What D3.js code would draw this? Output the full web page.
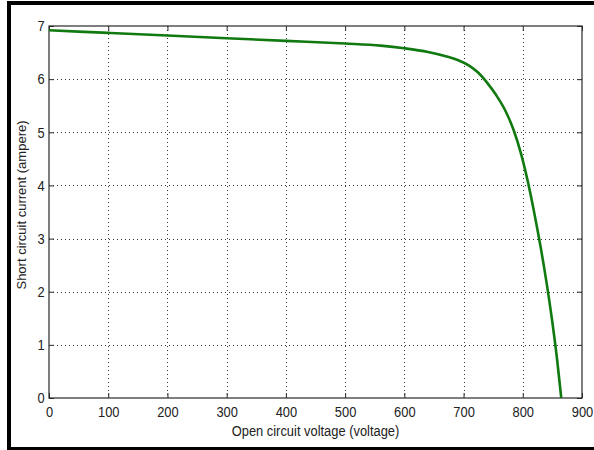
<!DOCTYPE html>
<html lang="en">
	<head>
		<meta charset="utf-8">
		<title>I-V curve</title>
		<script type="text/javascript" src="https://cdn.jsdelivr.net/npm/d3@7"></script>
		<style>
			body { margin: 0; background: #fff; }
			svg { display: block; }
			.axis text {
				font-family: "Liberation Sans", Arial, sans-serif;
				font-size: 15px;
				fill: #222;
			}
			.axis line { stroke: #2a2a2a; }
			.grid line {
				stroke: #333;
				stroke-width: 1px;
				stroke-dasharray: 1,3;
				shape-rendering: crispEdges;
			}
		</style>
	</head>
	<body>
		<script type="text/javascript">

			var w = 594;
			var h = 450;

			// x ticks (voltage) and y ticks (current)
			var xTicks = [0, 100, 200, 300, 400, 500, 600, 700, 800, 900];
			var yTicks = [0, 1, 2, 3, 4, 5, 6, 7];

			// curve
			var voltage = [0, 100, 200, 300, 400, 500, 560, 600, 640, 670, 690, 710, 725, 740, 755, 770, 785, 797, 808, 820, 830, 840, 850, 858, 865];
			var current = [6.92, 6.87, 6.82, 6.77, 6.72, 6.67, 6.63, 6.58, 6.51, 6.43, 6.36, 6.25, 6.12, 5.93, 5.70, 5.42, 5.03, 4.60, 4.10, 3.45, 2.85, 2.18, 1.42, 0.72, 0.00];

			var xLabel = "Open circuit voltage (voltage)";
			var yLabel = "Short circuit current (ampere)";

			// plot box (window.top is read-only, so use p* names)
			var pLeft = 49, pRight = 582, pTop = 26, pBottom = 398;

			var xScale = d3.scaleLinear().domain([0, 900]).range([pLeft, pRight]);
			var yScale = d3.scaleLinear().domain([0, 7]).range([pBottom, pTop]);

			var svg = d3.select("body")
				.append("svg")
				.attr("width", w)
				.attr("height", h);

			// outer black frame
			svg.append("line").attr("x1", 7).attr("x2", w).attr("y1", 3).attr("y2", 3)
				.attr("stroke", "#000").attr("stroke-width", 4);
			svg.append("line").attr("x1", 9).attr("x2", 9).attr("y1", 1).attr("y2", h)
				.attr("stroke", "#000").attr("stroke-width", 4);
			svg.append("line").attr("x1", 7).attr("x2", w).attr("y1", 448.5).attr("y2", 448.5)
				.attr("stroke", "#000").attr("stroke-width", 3);

			// grid
			var grid = svg.append("g").attr("class", "grid");
			grid.selectAll("line.v")
				.data(xTicks.slice(1, -1))
				.enter()
				.append("line")
				.attr("class", "v")
				.attr("x1", function(d){ return Math.round(xScale(d)) + 0.5; })
				.attr("x2", function(d){ return Math.round(xScale(d)) + 0.5; })
				.attr("y1", pTop)
				.attr("y2", pBottom);
			grid.selectAll("line.h")
				.data(yTicks.slice(1, -1))
				.enter()
				.append("line")
				.attr("class", "h")
				.attr("x1", pLeft)
				.attr("x2", pRight)
				.attr("y1", function(d){ return Math.round(yScale(d)) + 0.5; })
				.attr("y2", function(d){ return Math.round(yScale(d)) + 0.5; });

			// axes, ticks pointing inward
			var fmt = d3.format("d");
			var xAxis = d3.axisBottom(xScale).tickValues(xTicks).tickFormat(fmt).tickSizeInner(-5).tickSizeOuter(0).tickPadding(8);
			var yAxis = d3.axisLeft(yScale).tickValues(yTicks).tickFormat(fmt).tickSizeInner(-5).tickSizeOuter(0).tickPadding(5);
			var xTop = d3.axisTop(xScale).tickValues(xTicks).tickSizeInner(-5).tickSizeOuter(0).tickFormat("");
			var yRight = d3.axisRight(yScale).tickValues(yTicks).tickSizeInner(-5).tickSizeOuter(0).tickFormat("");

			var gx = svg.append("g").attr("class", "axis").attr("transform", "translate(0," + pBottom + ")").call(xAxis);
			var gy = svg.append("g").attr("class", "axis").attr("transform", "translate(" + pLeft + ",0)").call(yAxis);
			svg.append("g").attr("class", "axis").attr("transform", "translate(0," + pTop + ")").call(xTop);
			svg.append("g").attr("class", "axis").attr("transform", "translate(" + pRight + ",0)").call(yRight);
			svg.selectAll(".axis .domain").remove();

			// squeeze text horizontally like the picture
			gx.selectAll("text").attr("transform", "scale(0.86,1)");
			gy.selectAll("text").attr("transform", "scale(0.86,1)");

			// box
			svg.append("rect")
				.attr("x", pLeft).attr("y", pTop)
				.attr("width", pRight - pLeft).attr("height", pBottom - pTop)
				.attr("fill", "none")
				.attr("stroke", "#2a2a2a")
				.attr("stroke-width", 1.2);

			// curve
			var pts = voltage.map(function(v, i){ return [v, current[i]]; });
			var line = d3.line()
				.curve(d3.curveMonotoneX)
				.x(function(d){ return xScale(d[0]); })
				.y(function(d){ return yScale(d[1]); });

			svg.append("path")
				.datum(pts)
				.attr("fill", "none")
				.attr("stroke", "#107a10")
				.attr("stroke-width", 2.6)
				.attr("d", line);

			// labels
			svg.append("text")
				.attr("transform", "translate(" + ((pLeft + pRight) / 2) + ",436) scale(0.86,1)")
				.attr("text-anchor", "middle")
				.style("font-family", "'Liberation Sans', Arial, sans-serif")
				.style("font-size", "15px")
				.style("fill", "#222")
				.text(xLabel);

			svg.append("text")
				.attr("transform", "translate(26,205) rotate(-90)")
				.attr("text-anchor", "middle")
				.style("font-family", "'Liberation Sans', Arial, sans-serif")
				.style("font-size", "13px")
				.style("fill", "#222")
				.text(yLabel);

		</script>
	</body>
</html>
